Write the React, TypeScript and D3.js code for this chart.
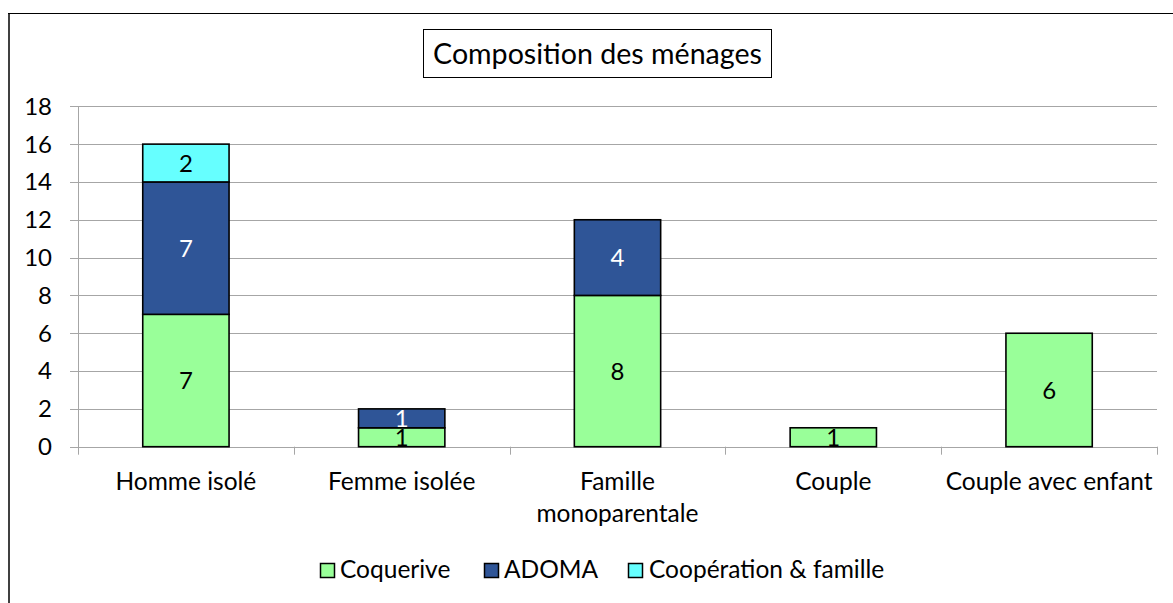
import React from "react";
import * as d3 from "d3";

const categories = ["Homme isolé", "Femme isolée", "Famille monoparentale", "Couple", "Couple avec enfant"];
const categoryLines = [["Homme isolé"], ["Femme isolée"], ["Famille", "monoparentale"], ["Couple"], ["Couple avec enfant"]];
const seriesNames = ["Coquerive", "ADOMA", "Coopération & famille"];
const coquerive = [7, 1, 8, 1, 6];
const adoma = [7, 1, 4, 0, 0];
const cooperation = [2, 0, 0, 0, 0];
const yTicks = [0, 2, 4, 6, 8, 10, 12, 14, 16, 18];
const colors = ["#99FF99", "#2F5597", "#66FFFF"];
const labelColors = ["#000", "#fff", "#000"];

const FONT = "Lato, 'Carlito', Calibri, sans-serif";

export default function App() {
  const W = 1173, H = 603;
  const left = 78, right = 1157, top = 106.3, bottom = 446.7;
  const x = d3.scaleBand<string>().domain(categories).range([left, right]).paddingInner(0.6).paddingOuter(0.3);
  const y = d3.scaleLinear().domain([0, 18]).range([bottom, top]);
  const rows = categories.map((c, i) => ({ cat: c, Coquerive: coquerive[i], ADOMA: adoma[i], "Coopération & famille": cooperation[i] }));
  const stacked = d3.stack<any>().keys(seriesNames)(rows);
  const step = x.step();

  return (
    <svg width={W} height={H} style={{ position: "absolute", left: 0, top: 0, display: "block" }} fontFamily={FONT}>
      <rect x={0} y={0} width={W} height={H} fill="#fff" />
      {/* outer chart border */}
      <line x1={9} y1={13} x2={9} y2={H} stroke="#404040" strokeWidth={2} />
      <line x1={8} y1={13.5} x2={W} y2={13.5} stroke="#000" strokeWidth={1} />

      {/* title */}
      <rect x={423.5} y={29.5} width={348} height={48} fill="#fff" stroke="#000" strokeWidth={1} />
      <text x={597.5} y={64} textAnchor="middle" fontSize={28.6} fill="#000">Composition des ménages</text>

      {/* gridlines */}
      {yTicks.map(t => (
        <line key={"g" + t} x1={70} x2={right} y1={Math.round(y(t)) + 0.5} y2={Math.round(y(t)) + 0.5} stroke="#A6A6A6" strokeWidth={1} />
      ))}
      {yTicks.map(t => (
        <text key={"yt" + t} x={52} y={y(t)} dy="0.35em" textAnchor="end" fontSize={24} fill="#000">{t}</text>
      ))}
      {/* y axis line */}
      <line x1={left + 0.5} x2={left + 0.5} y1={top} y2={bottom + 8} stroke="#A6A6A6" strokeWidth={1} />
      {/* category ticks */}
      {categories.map((c, i) => {
        const xx = left + step * (i + 1);
        return <line key={"ct" + i} x1={Math.round(xx) + 0.5} x2={Math.round(xx) + 0.5} y1={bottom} y2={bottom + 8} stroke="#A6A6A6" strokeWidth={1} />;
      })}

      {/* bars */}
      {stacked.map((s, si) => (
        <g key={s.key}>
          {s.map((d, i) => {
            const v = d[1] - d[0];
            if (v <= 0) return null;
            const bx = x(categories[i])!;
            return (
              <g key={i}>
                <rect x={bx} y={y(d[1])} width={x.bandwidth()} height={y(d[0]) - y(d[1])} fill={colors[si]} stroke="#000" strokeWidth={1.6} />
                <text x={bx + x.bandwidth() / 2} y={(y(d[0]) + y(d[1])) / 2} dy="0.36em" textAnchor="middle" fontSize={24} fill={labelColors[si]}>{v}</text>
              </g>
            );
          })}
        </g>
      ))}

      {/* x labels */}
      {categories.map((c, i) => (
        <text key={"xl" + i} x={x(c)! + x.bandwidth() / 2} y={490} textAnchor="middle" fontSize={24.5} fill="#000">
          {categoryLines[i].map((ln, j) => (
            <tspan key={j} x={x(c)! + x.bandwidth() / 2} dy={j === 0 ? 0 : 31.7}>{ln}</tspan>
          ))}
        </text>
      ))}

      {/* legend */}
      {[
        { mx: 320.5, tx: 340 },
        { mx: 484.5, tx: 504 },
        { mx: 628.5, tx: 649 },
      ].map((p, i) => (
        <g key={"lg" + i}>
          <rect x={p.mx} y={563.5} width={14} height={14} fill={colors[i]} stroke="#000" strokeWidth={1.5} />
          <text x={p.tx} y={577.5} fontSize={24.5} fill="#000">{seriesNames[i]}</text>
        </g>
      ))}
    </svg>
  );
}
